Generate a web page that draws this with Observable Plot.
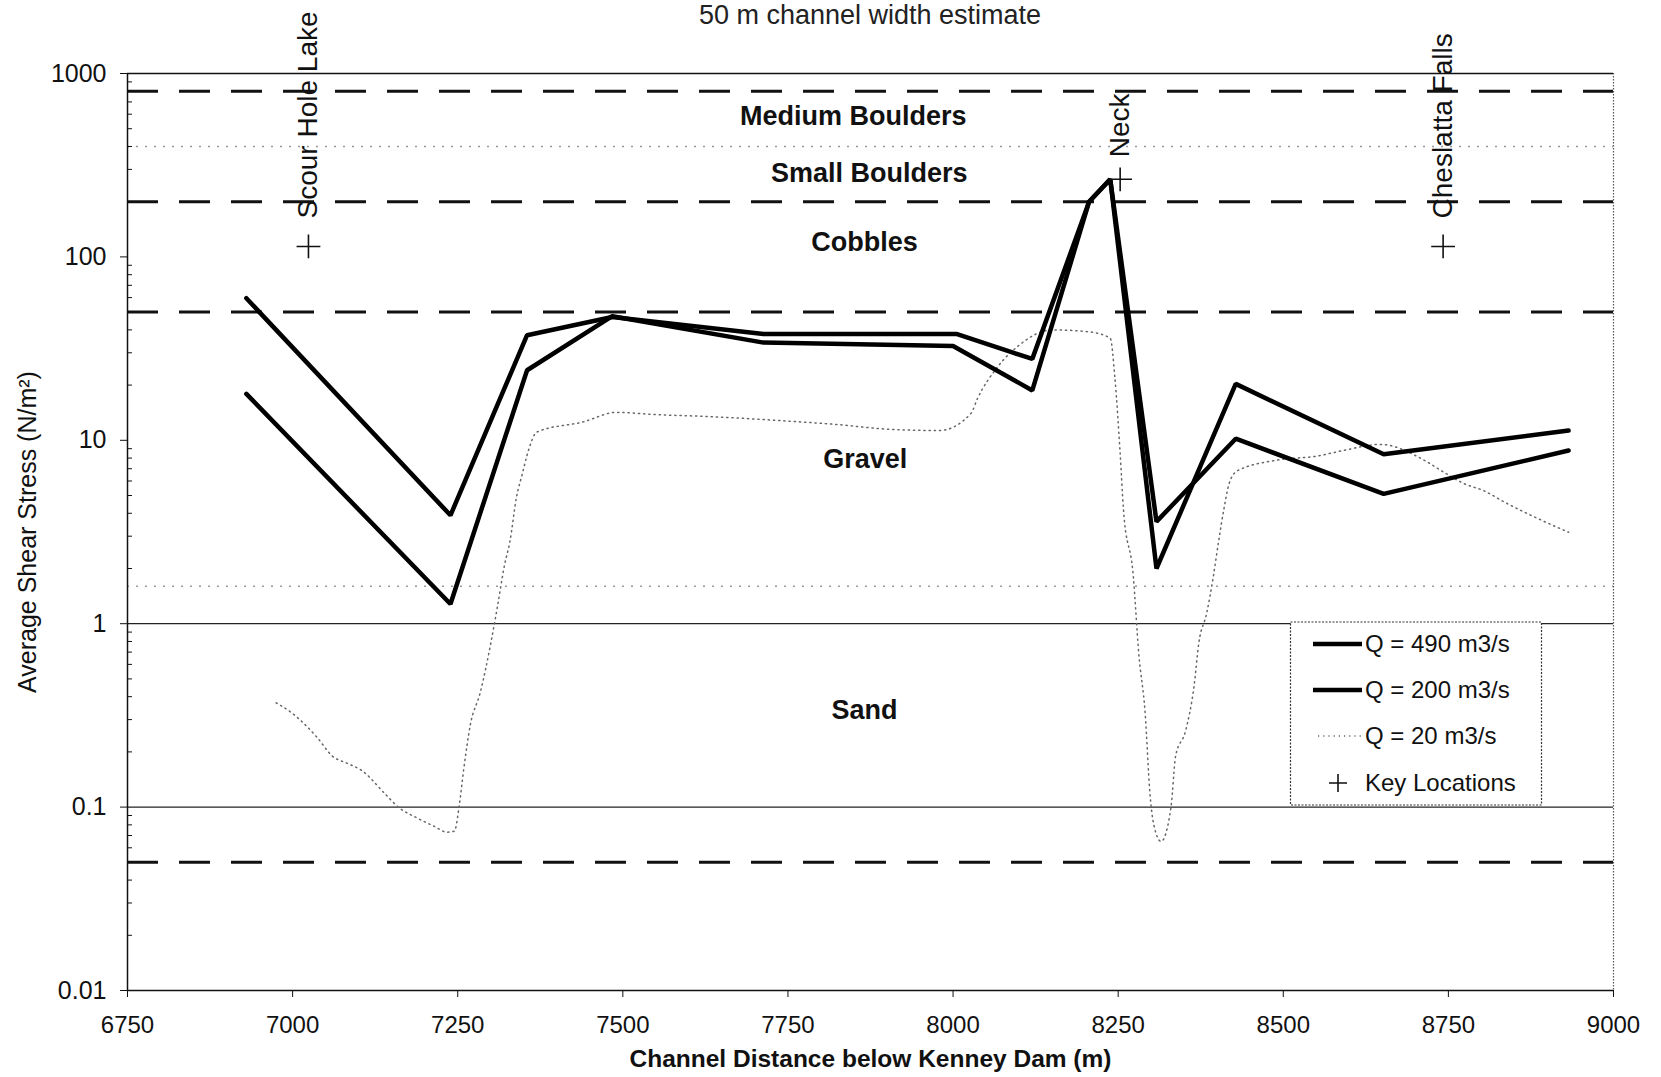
<!DOCTYPE html>
<html>
<head>
<meta charset="utf-8">
<script src="https://cdn.jsdelivr.net/npm/d3@7"></script>
<script src="https://cdn.jsdelivr.net/npm/@observablehq/plot@0.6"></script>
<style>
html,body{margin:0;padding:0;background:#fff;}
#wrap{position:relative;width:1661px;height:1077px;overflow:hidden;font-family:"Liberation Sans",Arial,sans-serif;}
#title{position:absolute;left:0;top:0px;width:1740px;text-align:center;font-size:27px;line-height:30px;color:#222;}
#chart{position:absolute;left:0;top:0;}
</style>
</head>
<body>
<div id="wrap">
  <div id="chart"></div>
  <div id="title">50 m channel width estimate</div>
</div>
<script>
// ---- data ----
const xTicks = [6750, 7000, 7250, 7500, 7750, 8000, 8250, 8500, 8750, 9000];
const yTicks = [0.01, 0.1, 1, 10, 100, 1000];
const yTickLabels = ["0.01", "0.1", "1", "10", "100", "1000"];

const q490X = [6930, 7239, 7355, 7484, 7713, 8005, 8084, 8120, 8206, 8238, 8308, 8428, 8652, 8932];
const q490Y = [59.5, 3.9, 37.4, 47, 38, 38, 30.6, 27.8, 200, 265, 2.0, 20.3, 8.4, 11.3];

const q200X = [6930, 7239, 7355, 7484, 7713, 8000, 8120, 8206, 8238, 8308, 8428, 8652, 8932];
const q200Y = [17.9, 1.28, 24.1, 47.5, 34.1, 32.7, 18.7, 200, 265, 3.6, 10.2, 5.1, 8.8];

const q20X = [6975, 6997, 7037, 7060, 7083, 7104, 7141, 7160, 7189, 7213, 7234, 7245, 7252, 7259, 7269, 7284, 7300, 7310, 7321, 7329, 7339, 7348, 7355, 7370, 7440, 7490, 7551, 7625, 7739, 7823, 7901, 7979, 8027, 8037, 8067, 8100, 8150, 8207, 8238, 8245, 8253, 8258, 8273, 8281, 8291, 8298, 8304, 8315, 8330, 8337, 8352, 8365, 8372, 8384, 8394, 8402, 8410, 8418, 8430, 8491, 8551, 8591, 8647, 8713, 8743, 8774, 8804, 8835, 8875, 8932];
const q20Y = [0.37, 0.33, 0.24, 0.19, 0.173, 0.159, 0.117, 0.10, 0.087, 0.079, 0.073, 0.074, 0.10, 0.16, 0.28, 0.42, 0.78, 1.23, 2.1, 2.8, 4.9, 6.6, 8.3, 11.1, 12.6, 14.2, 13.8, 13.5, 12.8, 12.2, 11.5, 11.3, 14, 16.9, 25, 33, 40, 39, 36, 22, 8.5, 4.2, 1.8, 0.7, 0.32, 0.12, 0.08, 0.065, 0.1, 0.19, 0.26, 0.46, 0.78, 1.14, 1.8, 2.8, 4.2, 5.8, 6.8, 7.8, 8.2, 8.8, 9.5, 7.8, 6.7, 5.8, 5.3, 4.6, 3.9, 3.15];

const dashedLevels = [800, 200, 50, 0.05];
const dottedLevels = [400, 1.6];
const solidLevels = [1, 0.1];

const zoneNames = ["Medium Boulders", "Small Boulders", "Cobbles", "Gravel", "Sand"];
const zoneX = [7849, 7873, 7866, 7867, 7866];
const zoneY = [586, 286, 120.5, 7.9, 0.337];

const keyNames = ["Scour Hole Lake", "Neck", "Cheslatta Falls"];
const keyX = [7024, 8253, 8742];
const keyY = [114, 265, 114];

const legendLabels = ["Q = 490 m3/s", "Q = 200 m3/s", "Q = 20 m3/s", "Key Locations"];

// minor log ticks
const yMinor = [];
for (const dec of [0.01, 0.1, 1, 10, 100]) for (const m of [2,3,4,5,6,7,8,9]) yMinor.push(+(dec*m).toPrecision(3));

// ---- chart ----
const W = 1661, H = 1077, mL = 127, mR = 48, mT = 73, mB = 87;
const font = "Liberation Sans, Arial, sans-serif";

const chart = Plot.plot({
  width: W, height: H,
  marginLeft: mL, marginRight: mR, marginTop: mT, marginBottom: mB,
  style: {fontFamily: font, background: "white", color: "#111", overflow: "visible"},
  x: {domain: [6750, 9000], label: null},
  y: {type: "log", domain: [0.01, 1000], label: null},
  marks: [
    Plot.ruleY(dottedLevels, {y: d => d, stroke: "#999", strokeWidth: 1.3, strokeDasharray: "2,7"}),
    Plot.ruleY(solidLevels, {y: d => d, stroke: "#222", strokeWidth: 1.3}),
    Plot.ruleY(dashedLevels, {y: d => d, stroke: "#111", strokeWidth: 3, strokeDasharray: "31,21"}),
    Plot.ruleY([1000, 0.01], {y: d => d, stroke: "#111", strokeWidth: 1.5}),
    Plot.ruleX([6750], {x: d => d, stroke: "#111", strokeWidth: 1.5}),
    Plot.ruleX([9000], {x: d => d, stroke: "#555", strokeWidth: 1.2, strokeDasharray: "1.5,1.5"}),
    Plot.tickY(yMinor, {y: d => d, insetRight: (W - mL - mR) - 5, stroke: "#111", strokeWidth: 1}),
    Plot.axisX({ticks: xTicks, tickSize: 7, tickPadding: 18, fontSize: 24, tickFormat: d => String(d), label: null}),
    Plot.axisY({ticks: yTicks, tickSize: 7, tickPadding: 14, fontSize: 25, tickFormat: d => yTickLabels[yTicks.indexOf(d)], label: null}),
    Plot.line(q20X, {x: d => d, y: (d, i) => q20Y[i], stroke: "#666", strokeWidth: 1.5, strokeDasharray: "1.2,4", curve: "monotone-x"}),
    Plot.line(q200X, {x: d => d, y: (d, i) => q200Y[i], stroke: "#000", strokeWidth: 4.5, strokeLinejoin: "miter"}),
    Plot.line(q490X, {x: d => d, y: (d, i) => q490Y[i], stroke: "#000", strokeWidth: 4.5, strokeLinejoin: "miter"}),
    Plot.text(zoneNames, {x: (d, i) => zoneX[i], y: (d, i) => zoneY[i], text: d => d, fontSize: 27, fontWeight: "bold", fill: "#111"}),
    Plot.dot(keyNames, {x: (d, i) => keyX[i], y: (d, i) => keyY[i], symbol: "plus", r: 7.7, stroke: "#111", strokeWidth: 1.6}),
    Plot.text(keyNames, {filter: d => d !== "Neck", x: d => keyX[keyNames.indexOf(d)], y: d => keyY[keyNames.indexOf(d)], text: d => d, rotate: -90, textAnchor: "start", lineAnchor: "middle", dy: -28, fontSize: 28, fill: "#111"}),
    Plot.text(keyNames, {filter: d => d === "Neck", x: d => keyX[keyNames.indexOf(d)], y: d => keyY[keyNames.indexOf(d)], text: d => d, rotate: -90, textAnchor: "start", lineAnchor: "middle", dy: -22, fontSize: 28, fill: "#111"}),
    Plot.text(["Channel Distance below Kenney Dam (m)"], {frameAnchor: "bottom", textAnchor: "middle", dy: 69, lineAnchor: "middle", fontSize: 24.5, fontWeight: "bold", fill: "#111"}),
    Plot.text(["Average Shear Stress (N/m²)"], {frameAnchor: "left", textAnchor: "middle", dx: -100, rotate: -90, lineAnchor: "middle", fontSize: 25, fill: "#111"})
  ]
});

// ---- legend ----
const svg = d3.select(chart);
const lg = svg.append("g").attr("font-family", font).attr("font-size", 24).attr("fill", "#111").attr("text-anchor", "start");
lg.append("rect").attr("x", 1290.5).attr("y", 622).attr("width", 251).attr("height", 183)
  .attr("fill", "white").attr("stroke", "#333").attr("stroke-width", 1.2).attr("stroke-dasharray", "2,1.5");
const rows = [644, 690, 736, 783];
lg.append("line").attr("x1", 1313).attr("x2", 1362).attr("y1", rows[0]).attr("y2", rows[0]).attr("stroke", "#000").attr("stroke-width", 4.5);
lg.append("line").attr("x1", 1313).attr("x2", 1362).attr("y1", rows[1]).attr("y2", rows[1]).attr("stroke", "#000").attr("stroke-width", 4.5);
lg.append("line").attr("x1", 1318).attr("x2", 1362).attr("y1", rows[2]).attr("y2", rows[2]).attr("stroke", "#666").attr("stroke-width", 1.5).attr("stroke-dasharray", "1.2,4");
lg.append("path").attr("d", `M${1338-9},${rows[3]}H${1338+9}M1338,${rows[3]-9}V${rows[3]+9}`).attr("stroke", "#111").attr("stroke-width", 1.6);
legendLabels.forEach((t, i) => {
  lg.append("text").attr("x", 1365).attr("y", rows[i]).attr("dy", "0.35em").attr("text-anchor", "start").text(t);
});

document.getElementById("chart").appendChild(chart);
</script>
</body>
</html>
